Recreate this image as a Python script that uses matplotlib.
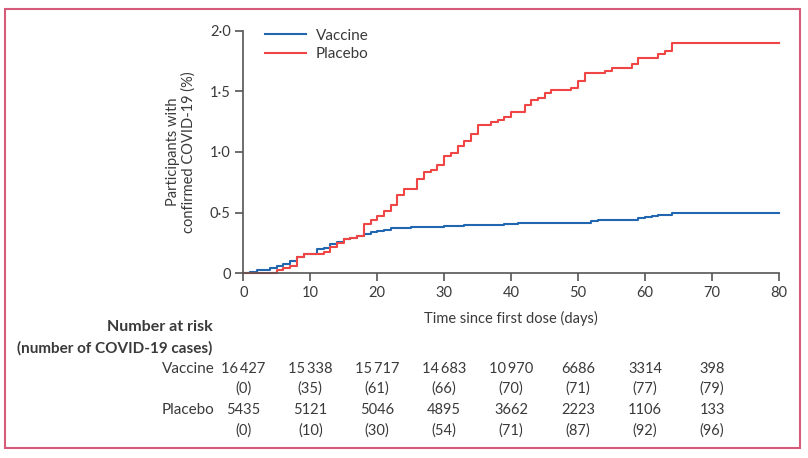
import matplotlib
matplotlib.use("Agg")
import matplotlib.pyplot as plt
from matplotlib.patches import Rectangle

plt.rcParams['font.family'] = ['Lato', 'DejaVu Sans']

# Kaplan-Meier style cumulative incidence (%)
vaccine_days = [0, 1, 2, 4, 5, 6, 7, 8, 9, 11, 12, 13, 14, 15, 16, 17, 18, 19, 20, 21, 22,
                25, 27, 30, 33, 39, 41, 52, 53, 58, 59, 60, 61, 62, 64, 80]
vaccine_pct = [0, 0.013, 0.024, 0.043, 0.063, 0.08, 0.105, 0.137, 0.162, 0.198, 0.21, 0.24,
               0.255, 0.28, 0.293, 0.304, 0.32, 0.338, 0.35, 0.357, 0.371, 0.379, 0.385,
               0.391, 0.397, 0.404, 0.418, 0.43, 0.436, 0.44, 0.456, 0.467, 0.475, 0.484,
               0.5, 0.5]

placebo_days = [0, 5, 6, 7, 8, 9, 12, 13, 14, 15, 16, 17, 18, 19, 20, 21, 22, 23, 24, 26, 27,
                28, 29, 30, 31, 32, 33, 34, 35, 37, 38, 39, 40, 42, 43, 44, 45, 46, 49, 50, 51,
                54, 55, 58, 59, 62, 63, 64, 80]
placebo_pct = [0, 0.024, 0.042, 0.062, 0.132, 0.163, 0.179, 0.214, 0.247, 0.28, 0.294, 0.308,
               0.405, 0.44, 0.474, 0.511, 0.566, 0.643, 0.698, 0.774, 0.835, 0.855, 0.896,
               0.967, 0.989, 1.049, 1.088, 1.147, 1.226, 1.245, 1.266, 1.286, 1.326, 1.385,
               1.426, 1.447, 1.487, 1.508, 1.525, 1.588, 1.648, 1.67, 1.695, 1.723, 1.772,
               1.805, 1.835, 1.9, 1.9]

# number at risk table
risk_days = [0, 10, 20, 30, 40, 50, 60, 70]
vaccine_risk = ['16\u2009427', '15\u2009338', '15\u2009717', '14\u2009683', '10\u2009970', '6686', '3314', '398']
vaccine_cases = ['(0)', '(35)', '(61)', '(66)', '(70)', '(71)', '(77)', '(79)']
placebo_risk = ['5435', '5121', '5046', '4895', '3662', '2223', '1106', '133']
placebo_cases = ['(0)', '(10)', '(30)', '(54)', '(71)', '(87)', '(92)', '(96)']

x_ticks = [0, 10, 20, 30, 40, 50, 60, 70, 80]
y_ticks = [0, 0.5, 1.0, 1.5, 2.0]
y_labels = ['0', '0·5', '1·0', '1·5', '2·0']

blue = '#2166b0'
red = '#f04545'
txt = '#3a3a3a'
axc = '#555555'

fig = plt.figure(figsize=(8.08, 4.58), dpi=100)
ax = fig.add_axes([0.3011, 0.4033, 0.663, 0.5297])

ax.step(vaccine_days, vaccine_pct, where='post', color=blue, lw=1.5, label='Vaccine', clip_on=False)
ax.step(placebo_days, placebo_pct, where='post', color=red, lw=1.5, label='Placebo', clip_on=False)

ax.set_xlim(0, 80)
ax.set_ylim(0, 2.0)
ax.set_xticks(x_ticks)
ax.set_yticks(y_ticks)
ax.set_yticklabels(y_labels)
for s in ['top', 'right']:
    ax.spines[s].set_visible(False)
for s in ['left', 'bottom']:
    ax.spines[s].set_color(axc)
    ax.spines[s].set_linewidth(1.2)
ax.tick_params(colors=axc, labelcolor=txt, labelsize=10.5, length=6, width=1.2, pad=3)

ax.text(0.5, -0.186, 'Time since first dose (days)', transform=ax.transAxes,
        ha='center', va='center', fontsize=10.5, color=txt)
ax.text(-0.116, 0.5, 'Participants with\nconfirmed COVID-19 (%)', transform=ax.transAxes,
        ha='center', va='center', rotation=90, fontsize=10.5, color=txt, linespacing=1.15)

ax.legend(loc='upper left', bbox_to_anchor=(0.015, 1.065), frameon=False, fontsize=11,
          handlelength=2.7, handletextpad=0.6, labelspacing=0.3, labelcolor=txt)

# number at risk
tr = ax.get_xaxis_transform()
ax.text(-4.6, -0.223, 'Number at risk', transform=tr, ha='right', va='center',
        fontsize=11.5, fontweight='bold', color=txt)
ax.text(-4.6, -0.31, '(number of COVID-19 cases)', transform=tr, ha='right', va='center',
        fontsize=11, fontweight='bold', color=txt)
rows = [(-0.393, 'Vaccine', vaccine_risk), (-0.475, None, vaccine_cases),
        (-0.562, 'Placebo', placebo_risk), (-0.649, None, placebo_cases)]
for yy, name, vals in rows:
    if name:
        ax.text(-4.3, yy, name, transform=tr, ha='right', va='center', fontsize=11, color=txt)
    for d, v in zip(risk_days, vals):
        ax.text(d, yy, v, transform=tr, ha='center', va='center', fontsize=10.5, color=txt)

fig.patches.append(Rectangle((5 / 808, 10 / 458), 795 / 808, 439 / 458, transform=fig.transFigure,
                             fill=False, edgecolor='#d65a7a', lw=1.5))

fig.savefig('out.png', dpi=100)
